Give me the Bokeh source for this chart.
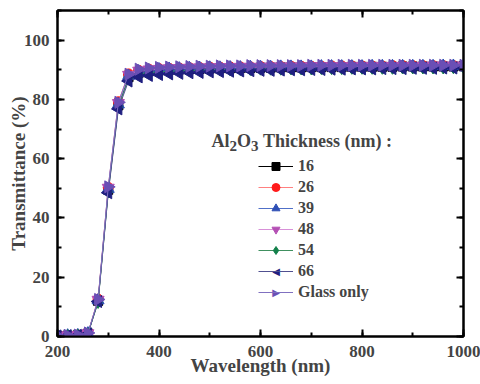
import math
from bokeh.plotting import figure
from bokeh.models import LinearAxis, Legend, LegendItem, Label, FixedTicker
from bokeh.embed import file_html
from bokeh.resources import INLINE

wavelength = list(range(200, 1001, 20))

t16 = [0.2, 0.3, 0.4, 1.0, 12.0, 49.5, 78.0, 87.5, 89.0, 89.5,
       89.8, 90.0, 90.1, 90.2, 90.3, 90.4, 90.5, 90.5, 90.6, 90.6,
       90.7, 90.7, 90.8, 90.8, 90.8, 90.9, 90.9, 90.9, 90.9, 91.0,
       91.0, 91.0, 91.0, 91.0, 91.1, 91.1, 91.1, 91.1, 91.1, 91.1, 91.2]
t26 = [0.3, 0.3, 0.5, 1.1, 12.6, 50.3, 79.2, 88.6, 89.8, 90.2,
       90.4, 90.5, 90.6, 90.7, 90.8, 90.9, 90.9, 91.0, 91.0, 91.0,
       91.1, 91.1, 91.1, 91.2, 91.2, 91.2, 91.2, 91.3, 91.3, 91.3,
       91.3, 91.3, 91.3, 91.4, 91.4, 91.4, 91.4, 91.4, 91.4, 91.4, 91.4]
t39 = [0.2, 0.3, 0.4, 1.0, 12.2, 49.8, 78.3, 87.9, 89.4, 89.8,
       90.1, 90.3, 90.4, 90.5, 90.6, 90.7, 90.7, 90.8, 90.8, 90.9,
       90.9, 90.9, 91.0, 91.0, 91.0, 91.0, 91.1, 91.1, 91.1, 91.1,
       91.1, 91.2, 91.2, 91.2, 91.2, 91.2, 91.2, 91.2, 91.3, 91.3, 91.3]
t48 = [0.3, 0.4, 0.5, 1.1, 12.4, 50.2, 78.8, 88.3, 89.7, 90.1,
       90.3, 90.5, 90.6, 90.7, 90.8, 90.8, 90.9, 90.9, 91.0, 91.0,
       91.0, 91.1, 91.1, 91.1, 91.1, 91.2, 91.2, 91.2, 91.2, 91.2,
       91.3, 91.3, 91.3, 91.3, 91.3, 91.3, 91.3, 91.4, 91.4, 91.4, 91.4]
t54 = [0.2, 0.3, 0.4, 0.9, 11.5, 48.8, 77.5, 87.0, 88.6, 89.0,
       89.3, 89.5, 89.6, 89.7, 89.8, 89.9, 90.0, 90.0, 90.1, 90.1,
       90.2, 90.2, 90.2, 90.3, 90.3, 90.3, 90.4, 90.4, 90.4, 90.5,
       90.5, 90.5, 90.5, 90.5, 90.6, 90.6, 90.6, 90.6, 90.6, 90.7, 90.7]
t66 = [0.2, 0.3, 0.4, 0.9, 11.8, 48.5, 76.8, 86.2, 87.6, 88.1,
       88.4, 88.6, 88.8, 89.0, 89.1, 89.3, 89.4, 89.5, 89.6, 89.7,
       89.8, 89.8, 89.9, 90.0, 90.0, 90.1, 90.1, 90.2, 90.2, 90.3,
       90.3, 90.3, 90.4, 90.4, 90.4, 90.5, 90.5, 90.5, 90.6, 90.6, 90.6]
tglass = [0.3, 0.4, 0.5, 1.2, 12.5, 50.5, 79.0, 88.5, 90.2, 90.6,
          90.8, 90.9, 91.0, 91.1, 91.2, 91.2, 91.3, 91.3, 91.3, 91.4,
          91.4, 91.4, 91.4, 91.4, 91.4, 91.5, 91.5, 91.5, 91.5, 91.5,
          91.5, 91.5, 91.5, 91.5, 91.5, 91.5, 91.5, 91.5, 91.5, 91.5, 91.5]

labels = ["16", "26", "39", "48", "54", "66", "Glass only"]
series = [t16, t26, t39, t48, t54, t66, tglass]
colors = ["#000000", "#ff1a1a", "#2e4fb5", "#b44fb4", "#12804a", "#1f1f80", "#6a4fb5"]
line_colors = ["#000000", "#ff8080", "#5070c8", "#d890d8", "#409060", "#505090", "#8070c0"]
markers = ["square", "circle", "triangle", "inverted_triangle", "diamond", "triangle", "triangle"]
angles = [0, 0, 0, 0, 0, math.pi / 2, -math.pi / 2]
msizes = [9, 10, 12, 12, 12, 12, 12]
legend_arrow = [None, None, None, None, None, "\u25C0", "\u25B6"]

xticks = [200, 400, 600, 800, 1000]
yticks = [0, 20, 40, 60, 80, 100]
xminor = list(range(200, 1001, 100))
yminor = list(range(0, 111, 10))

FONT = "Liberation Serif"

p = figure(width=480, height=384, x_range=(200, 1000), y_range=(0, 110),
           output_backend="svg", toolbar_location=None,
           min_border_left=57, min_border_right=17, min_border_top=10, min_border_bottom=48,
           x_axis_label="Wavelength (nm)", y_axis_label="Transmittance (%)")
p.xgrid.visible = False
p.ygrid.visible = False
p.outline_line_color = "black"
p.outline_line_width = 2

items = []
for lab, ys, c, lc, m, a, s, arr in zip(labels, series, colors, line_colors, markers, angles, msizes, legend_arrow):
    r1 = p.line(wavelength, ys, line_color=lc, line_width=1)
    r2 = p.scatter(wavelength, ys, marker=m, angle=a, size=s, fill_color=c, line_color=c)
    items.append(LegendItem(label=lab, renderers=[r1] if arr else [r1, r2]))

LEG_X, LEG_Y, ROW = 201, 34, 21
legend = Legend(items=items, location=(LEG_X, LEG_Y), padding=0, margin=0, spacing=1,
                glyph_width=35, glyph_height=20, label_height=20, label_standoff=5,
                border_line_color=None, background_fill_alpha=0,
                label_text_font=FONT, label_text_font_style="bold", label_text_font_size="16px")
p.add_layout(legend, "center")

# legend symbols for the sideways triangles (legend glyphs are drawn unrotated)
n = len(labels)
for i, (arr, c) in enumerate(zip(legend_arrow, colors)):
    if arr:
        p.add_layout(Label(x=LEG_X + 17.5, y=LEG_Y + (n - 1 - i) * ROW + 10, x_units="screen", y_units="screen",
                           text=arr, text_color=c, text_font="DejaVu Sans", text_font_size="10px",
                           text_align="center", text_baseline="middle"))

def style_axis(ax, show, ticks):
    ax.axis_line_width = 2
    ax.major_tick_line_width = 2
    ax.minor_tick_line_width = 2
    ax.major_tick_in = 7
    ax.major_tick_out = 0
    ax.minor_tick_in = 4
    ax.minor_tick_out = 0
    if show:
        ax.major_label_text_font = FONT
        ax.major_label_text_font_style = "bold"
        ax.major_label_text_font_size = "17px"
        ax.axis_label_text_font = FONT
        ax.axis_label_text_font_style = "bold"
        ax.axis_label_text_font_size = "19px"
    else:
        ax.major_label_overrides = {t: "" for t in ticks}
        ax.major_label_text_font_size = "0px"
        ax.major_label_standoff = 0

p.xaxis.ticker = FixedTicker(ticks=xticks, minor_ticks=xminor)
p.yaxis.ticker = FixedTicker(ticks=yticks, minor_ticks=yminor)
style_axis(p.xaxis[0], True, xticks)
style_axis(p.yaxis[0], True, yticks)
p.xaxis[0].major_label_standoff = 9
p.xaxis[0].axis_label_standoff = -5
p.yaxis[0].major_label_standoff = 8
p.yaxis[0].axis_label_standoff = -8

top = LinearAxis(ticker=FixedTicker(ticks=xticks, minor_ticks=xminor))
right = LinearAxis(ticker=FixedTicker(ticks=yticks, minor_ticks=yminor))
style_axis(top, False, xticks)
style_axis(right, False, yticks)
p.add_layout(top, "above")
p.add_layout(right, "right")

# legend title with subscripts
title_parts = [
    ("Al", 154, 196, "18px"),
    ("2", 172, 191, "15px"),
    ("O", 179.5, 196, "18px"),
    ("3", 193.5, 191, "15px"),
    ("Thickness (nm) :", 205.5, 196, "18px"),
]
for txt, x, y, fs in title_parts:
    p.add_layout(Label(x=x, y=y, x_units="screen", y_units="screen", text=txt,
                       text_font=FONT, text_font_style="bold", text_font_size=fs,
                       text_baseline="alphabetic", text_align="left"))

open("out.html", "w").write(file_html(p, INLINE))
